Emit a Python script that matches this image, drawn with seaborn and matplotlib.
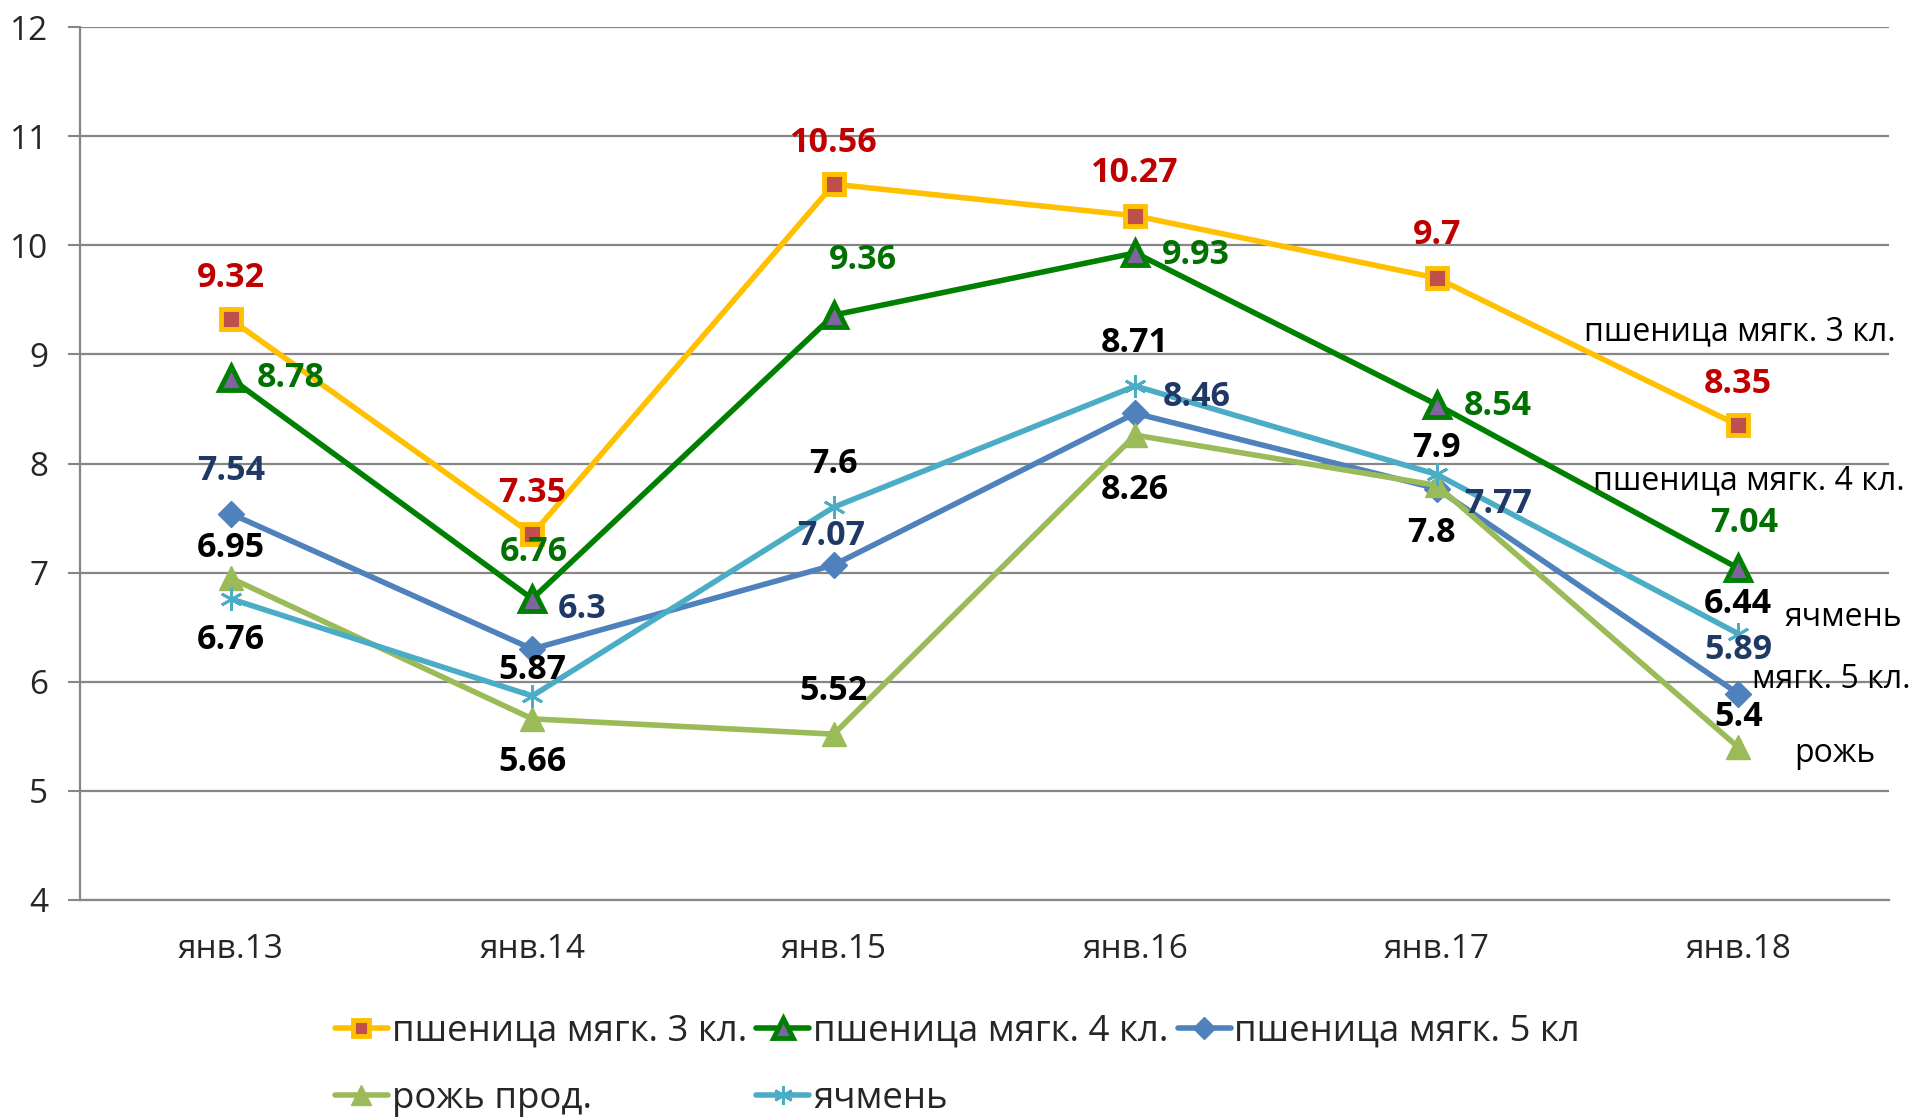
import matplotlib
matplotlib.use("Agg")
import matplotlib.pyplot as plt
import seaborn as sns
import pandas as pd
from matplotlib.lines import Line2D

categories = ["янв.13", "янв.14", "янв.15", "янв.16", "янв.17", "янв.18"]
wheat3 = [9.32, 7.35, 10.56, 10.27, 9.7, 8.35]
wheat4 = [8.78, 6.76, 9.36, 9.93, 8.54, 7.04]
wheat5 = [7.54, 6.3, 7.07, 8.46, 7.77, 5.89]
rye = [6.95, 5.66, 5.52, 8.26, 7.8, 5.4]
barley = [6.76, 5.87, 7.6, 8.71, 7.9, 6.44]
names = ["пшеница мягк. 3 кл.", "пшеница мягк. 4 кл.", "пшеница мягк. 5 кл",
         "рожь прод.", "ячмень"]
end_labels = ["пшеница мягк. 3 кл.", "пшеница мягк. 4 кл.", "мягк. 5 кл.", "рожь", "ячмень"]

sns.set_theme(style="white")
plt.rcParams['font.family'] = ['Open Sans', 'DejaVu Sans']

fig = plt.figure(figsize=(19.15, 11.18), dpi=100)
ax = fig.add_axes([80/1915, 1-900/1118, (1889-80)/1915, (900-27)/1118])

xs = [i + 0.5 for i in range(len(categories))]

styles = [
    dict(color="#FFC000", marker="s", mfc="#C0504D", mec="#FFC000", ms=14, mew=3.5),
    dict(color="#008000", marker="^", mfc="#8064A2", mec="#008000", ms=17, mew=3.5),
    dict(color="#4F81BD", marker="D", mfc="#4F81BD", mec="#4F81BD", ms=13, mew=1),
    dict(color="#9BBB59", marker="^", mfc="#9BBB59", mec="#9BBB59", ms=17, mew=1),
    dict(color="#4BACC6", marker=(6, 2, 0), mfc="#4BACC6", mec="#4BACC6", ms=16, mew=2),
]
series = [wheat3, wheat4, wheat5, rye, barley]
label_colors = ["#C00000", "#007000", "#1F3864", "black", "black"]

# label offsets in (shrunk-reference) pixels: dx, dy (positive dy = up)
offsets = [
    [(0, 34), (0, 34), (0, 34), (0, 35), (0, 35), (0, 34)],
    [(49, 0), (1, 38), (24, 45), (50, -2), (50, -1), (5, 37)],
    [(0, 35), (41, 33), (-2, 24), (50, 13), (50, -13), (0, 36)],
    [(0, 25), (0, -35), (0, 35), (0, -45), (-4, -39), (0, 25)],
    [(0, -34), (0, 21), (0, 35), (0, 35), (0, 22), (0, 24)],
]
scale = 1915 / 1568

handles = []
for vals, st, name, lc, offs in zip(series, styles, names, label_colors, offsets):
    df = pd.DataFrame({"x": xs, "y": vals})
    sns.lineplot(data=df, x="x", y="y", ax=ax, color=st["color"], linewidth=4.0,
                 marker=st["marker"], markersize=st["ms"], markerfacecolor=st["mfc"],
                 markeredgecolor=st["mec"], markeredgewidth=st["mew"], zorder=3)
    for x, v, (dx, dy) in zip(xs, vals, offs):
        ax.annotate(f"{v:g}", (x, v), xytext=(dx*scale, dy*scale), textcoords="offset pixels",
                    ha="center", va="center", fontsize=24.5, fontweight="bold", color=lc,
                    zorder=5, annotation_clip=False)
    handles.append(Line2D([], [], color=st["color"], linewidth=4.0, marker=st["marker"],
                          markersize=st["ms"]*0.85, markerfacecolor=st["mfc"],
                          markeredgecolor=st["mec"], markeredgewidth=st["mew"]))

# end-of-line series names
end_pos = [(5.506, 9.21), (5.535, 7.84), (5.81, 6.02), (5.82, 5.34), (5.85, 6.59)]
for txt, (x, y) in zip(end_labels, end_pos):
    ax.text(x, y, txt, ha="center", va="center", fontsize=23, color="black",
            clip_on=False, zorder=6)

ax.set_xlim(0, 6)
ax.set_ylim(4, 12)
ax.set_yticks(range(4, 13))
ax.set_yticklabels([str(i) for i in range(4, 13)], fontsize=24)
ax.set_xticks(range(0, 7))
ax.set_xticklabels([])
ax.set_xticks(xs, minor=True)
ax.set_xticklabels(categories, minor=True, fontsize=24)
ax.tick_params(axis="x", which="major", length=9, width=1.5, color="#868686", direction="out")
ax.tick_params(axis="x", which="minor", length=0, pad=24)
ax.tick_params(axis="y", length=9, width=1.5, color="#868686", direction="out", pad=14, left=True)
ax.set_xlabel("")
ax.set_ylabel("")
ax.grid(axis="y", color="#868686", linewidth=1.6)
ax.grid(axis="x", visible=False)
for s in ["top", "right"]:
    ax.spines[s].set_visible(False)
ax.spines["left"].set_color("#868686")
ax.spines["left"].set_linewidth(1.6)
ax.spines["bottom"].set_color("#868686")
ax.spines["bottom"].set_linewidth(1.6)
ax.set_axisbelow(True)

order = [0, 3, 1, 4, 2]
fig.legend([handles[i] for i in order], [names[i] for i in order], ncol=3,
           loc="center", bbox_to_anchor=(0.5, 0.047), frameon=False, fontsize=26.4,
           handlelength=1.45, handletextpad=0.1, columnspacing=0.25, labelspacing=0.85,
           borderpad=0)

fig.savefig("out.png", dpi=100, facecolor="white")
